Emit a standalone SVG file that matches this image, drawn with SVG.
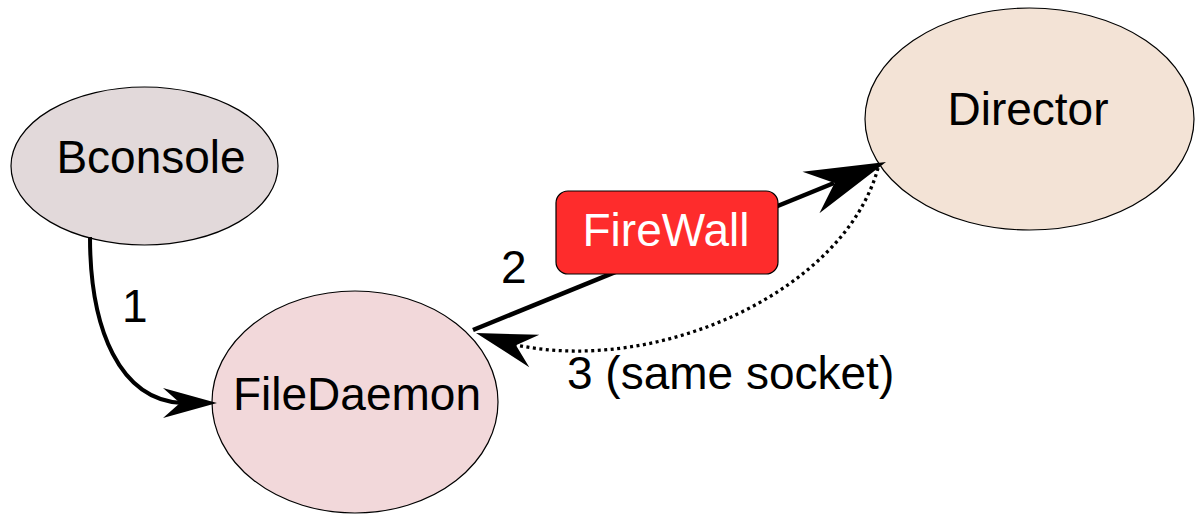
<svg xmlns="http://www.w3.org/2000/svg" xmlns:xlink="http://www.w3.org/1999/xlink" width="1195" height="515" viewBox="0 0 1195 515">
<style>
.node{stroke:#000;stroke-width:1.2}
.lbl{font-family:"Liberation Sans",Arial,sans-serif;font-size:46px;fill:#000}
.conn{fill:none;stroke:#000}
</style>
<defs>
<path id="barb" d="M0,0 L-54,-15 L-37,0 L-54,15 Z" fill="#000"/>
</defs>
<rect width="1195" height="515" fill="#fff"/>
<g id="bconsole">
<ellipse class="node" cx="144.5" cy="166" rx="133.5" ry="79" fill="#e2d9da"/>
<text class="lbl" x="151" y="173" text-anchor="middle">Bconsole</text>
</g>
<g id="filedaemon">
<ellipse class="node" cx="355" cy="402" rx="143" ry="111" fill="#f2d8da"/>
<text class="lbl" x="357" y="410" text-anchor="middle">FileDaemon</text>
</g>
<g id="director">
<ellipse class="node" cx="1029.5" cy="119" rx="164.5" ry="111" fill="#f3e3d6"/>
<text class="lbl" x="1028" y="125" text-anchor="middle">Director</text>
</g>
<g id="connectors">
<path class="conn" stroke-width="4" d="M90,237 C90,330 120,400 182,403"/>
<use xlink:href="#barb" transform="translate(217,403)"/>
<text class="lbl" x="122" y="322">1</text>
<path class="conn" stroke-width="4.5" d="M473,330 L834,183"/>
<use xlink:href="#barb" transform="translate(886,162) rotate(-22.1) scale(1.5)"/>
<text class="lbl" x="501" y="283">2</text>
<path class="conn" stroke-width="3.3" stroke-dasharray="3 3.5" d="M878,168 C845,290 660,375 516,345"/>
<use xlink:href="#barb" transform="translate(476,333) rotate(197.2) scale(1.13)"/>
<text class="lbl" x="567" y="389">3 (same socket)</text>
</g>
<g id="firewall">
<rect class="node" x="556" y="191" width="222" height="83" rx="12" fill="#fe2c2c"/>
<text class="lbl" x="666" y="246" text-anchor="middle" style="fill:#fff">FireWall</text>
</g>
</svg>
